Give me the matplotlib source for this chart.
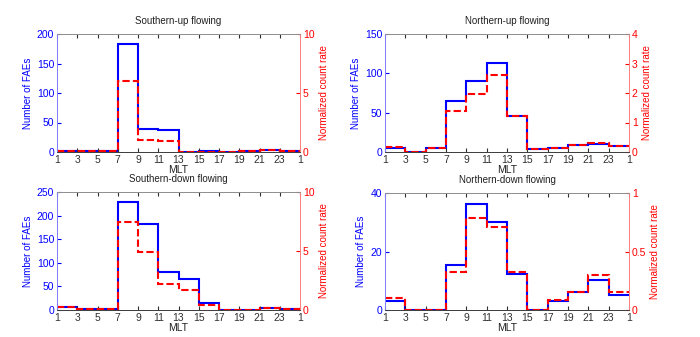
import matplotlib.pyplot as plt
import numpy as np

plt.rcParams['font.family'] = ['Liberation Sans', 'DejaVu Sans']
plt.rcParams['font.size'] = 7

# MLT bin edges (2-hour bins, wrapping back to 1)
mlt_edges = np.arange(1, 27, 2)
mlt_labels = ['1', '3', '5', '7', '9', '11', '13', '15', '17', '19', '21', '23', '1']

titles = ['Southern-up flowing', 'Northern-up flowing',
          'Southern-down flowing', 'Northern-down flowing']

# number of FAEs per MLT bin
south_up_counts = [1, 2, 1, 183, 39, 37, 0, 1, 0, 1, 3, 2]
north_up_counts = [5, 0, 4.7, 64.6, 90.5, 112.6, 46.3, 3.4, 4.7, 9.3, 10.2, 7.6]
south_down_counts = [6.3, 2, 2, 228, 183, 81, 66, 15.5, 0.7, 0, 5, 2.8]
north_down_counts = [3.2, 0, 0, 15.3, 36.3, 30.1, 12.3, 0, 3.2, 6.1, 10.1, 5.1]

# normalized count rate per MLT bin
south_up_rate = [0.05, 0.05, 0.05, 6.03, 1.05, 0.96, 0, 0, 0, 0.05, 0.15, 0.1]
north_up_rate = [0.16, 0, 0.14, 1.40, 1.96, 2.62, 1.23, 0.09, 0.14, 0.24, 0.31, 0.22]
south_down_rate = [0.28, 0.06, 0.06, 7.46, 4.93, 2.2, 1.66, 0.45, 0, 0, 0.14, 0.08]
north_down_rate = [0.105, 0, 0, 0.327, 0.787, 0.707, 0.327, 0, 0.088, 0.153, 0.298, 0.15]

counts = [south_up_counts, north_up_counts, south_down_counts, north_down_counts]
rates = [south_up_rate, north_up_rate, south_down_rate, north_down_rate]

# axis limits and ticks for each panel
left_lims = [200, 150, 250, 40]
left_ticks = [[0, 50, 100, 150, 200], [0, 50, 100, 150],
              [0, 50, 100, 150, 200, 250], [0, 20, 40]]
right_lims = [10, 4, 10, 1]
right_ticks = [[0, 5, 10], [0, 1, 2, 3, 4], [0, 5, 10], [0, 0.5, 1]]
right_ticklabels = [['0', '5', '10'], ['0', '1', '2', '3', '4'],
                    ['0', '5', '10'], ['0', '0.5', '1']]

blue = '#0000ff'
red = '#ff0000'

# panel positions in figure fractions [left, bottom, width, height]
W, H = 700, 337
boxes = [(57, 34, 300, 152), (385, 34, 629, 152),
         (57, 192, 300, 310), (385, 193, 629, 310)]

fig = plt.figure(figsize=(7, 3.37), dpi=100)

for i, (x0, y0, x1, y1) in enumerate(boxes):
    ax = fig.add_axes([x0 / W, 1 - y1 / H, (x1 - x0) / W, (y1 - y0) / H])
    ax2 = ax.twinx()

    ax.stairs(counts[i], mlt_edges, color=blue, linewidth=1.5, baseline=None)
    ax2.stairs(rates[i], mlt_edges, color=red, linewidth=1.5,
               linestyle=(0, (3.5, 1.5)), baseline=None)

    ax.set_xlim(1, 25)
    ax.set_xticks(mlt_edges)
    ax.set_xticklabels(mlt_labels, fontsize=7.5)
    ax.set_ylim(0, left_lims[i])
    ax.set_yticks(left_ticks[i])
    ax2.set_ylim(0, right_lims[i])
    ax2.set_yticks(right_ticks[i])
    ax2.set_yticklabels(right_ticklabels[i], fontsize=7.5)
    ax.tick_params(axis='y', labelsize=7.5)

    ax.set_title(titles[i], fontsize=7, pad=7, color='#202020')
    ax.set_xlabel('MLT', labelpad=0, fontsize=7.5, color='#202020')
    ax.set_ylabel('Number of FAEs', color=blue, labelpad=3)
    ax2.set_ylabel('Normalized count rate', color=red, labelpad=3)

    ax.tick_params(axis='both', direction='in', length=3, pad=2)
    ax.tick_params(axis='y', colors=blue)
    ax.tick_params(axis='x', top=True, colors='#303030')
    ax2.tick_params(axis='y', direction='in', length=3, pad=2, colors=red)

    for a in (ax, ax2):
        a.spines['top'].set_color('#909090')
        a.spines['bottom'].set_color('#404040')
        a.spines['left'].set_color('#8080ff')
        a.spines['right'].set_color('#ff8080')
        for s in a.spines.values():
            s.set_linewidth(0.7)

plt.savefig('out.png', dpi=100)
plt.close()
